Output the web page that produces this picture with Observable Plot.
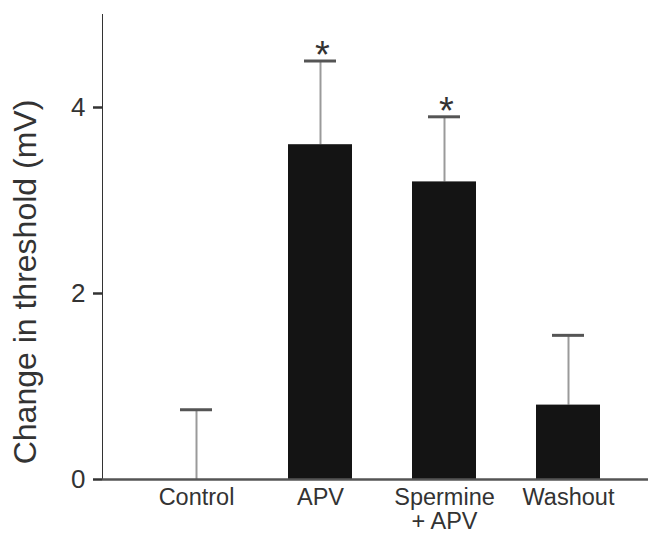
<!DOCTYPE html>
<html><head><meta charset="utf-8">
<script src="https://cdn.jsdelivr.net/npm/d3@7"></script>
<script src="https://cdn.jsdelivr.net/npm/@observablehq/plot@0.6"></script>
<style>
body{margin:0;background:#fff}
#chart svg [aria-label^="y-axis"] text{font-size:26px}
#chart svg [aria-label^="y-axis"] line,#chart svg [aria-label^="y-axis"] path{stroke-width:2.5}
</style></head><body><div id="chart"></div>
<script>
const categories = ["Control", "APV", "Spermine + APV", "Washout"];
const means = [0, 3.6, 3.2, 0.8];
const errors = [0.75, 0.9, 0.7, 0.75];
const significant = [false, true, true, false];
const tickLabels = ["Control", "APV", "Spermine\n+ APV", "Washout"];
const yTicks = [0, 2, 4];
const yLabel = "Change in threshold (mV)";

const data = categories.map((c, i) => ({cat: c, mean: means[i], upper: means[i] + errors[i], sig: significant[i]}));

const chart = Plot.plot({
  width: 648,
  height: 538,
  marginLeft: 102,
  marginRight: 0,
  marginTop: 14,
  marginBottom: 59,
  style: {fontFamily: "'Liberation Sans', Arial, sans-serif", fontSize: "23.5px", color: "#333", background: "#fff"},
  x: {domain: categories, range: [134, 630], paddingInner: 0.48, paddingOuter: 0.24, label: null, tickSize: 0, tickPadding: 9,
      tickFormat: d => tickLabels[categories.indexOf(d)]},
  y: {domain: [0, 5], ticks: yTicks, tickFormat: d => String(d), tickSize: 9, tickPadding: 8, label: null, line: true},
  marks: [
    Plot.ruleX(data, {x: "cat", y1: "mean", y2: "upper", stroke: "#9a9a9a", strokeWidth: 2}),
    Plot.tickY(data, {x: "cat", y: "upper", stroke: "#555", strokeWidth: 3, insetLeft: 16, insetRight: 16}),
    Plot.barY(data, {x: "cat", y: "mean", fill: "#141414"}),
    Plot.ruleY([0], {stroke: "#555", strokeWidth: 2.5}),
    Plot.text(data.filter(d => d.sig), {x: "cat", y: "upper", text: () => "*", fontSize: 38, dy: -5, dx: 2, fill: "#333"}),
    Plot.text([yLabel], {frameAnchor: "left", textAnchor: "middle", text: d => d, rotate: -90, dx: -77, dy: 35, fontSize: 32, fill: "#333"})
  ]
});
document.getElementById("chart").appendChild(chart);
</script></body></html>
